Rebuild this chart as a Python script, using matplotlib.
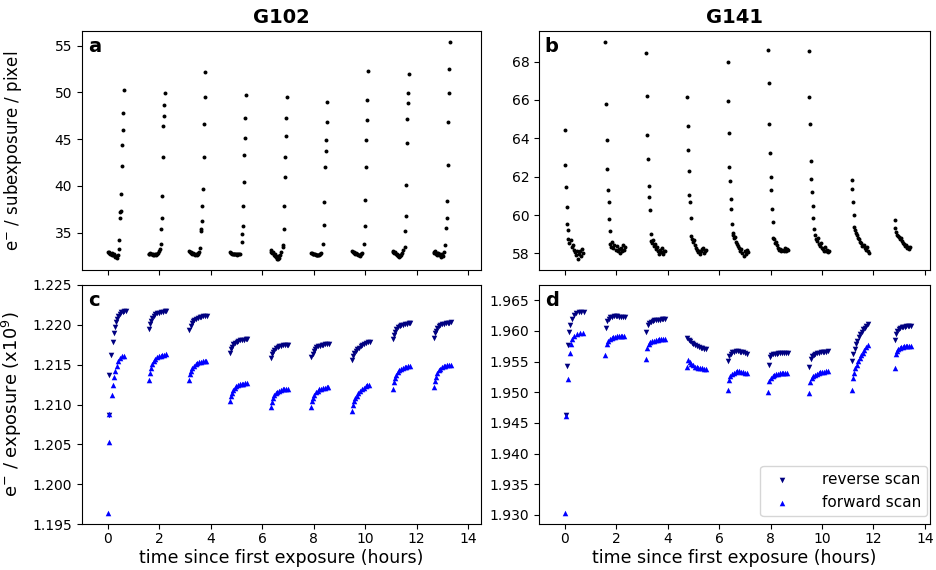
import matplotlib
matplotlib.use("Agg")
import matplotlib.pyplot as plt
from matplotlib.ticker import FormatStrFormatter

# orbit start times (hours since first exposure)
g102_start = [0.0, 1.59, 3.16, 4.74, 6.33, 7.90, 9.49, 11.07, 12.66]
g141_start = [0.0, 1.58, 3.16, 4.75, 6.33, 7.91, 9.49, 11.16, 12.83]

# ---- upper panels: e- / subexposure / pixel ----
# G102: flat cluster early in orbit, then a rising run of subexposures
g102_cl_dt = [0.00, 0.03, 0.06, 0.09, 0.12, 0.15, 0.18, 0.21, 0.24, 0.27, 0.30, 0.33, 0.36, 0.39]
g102_rise_dt = [0.40, 0.42, 0.44, 0.46, 0.48, 0.50, 0.52, 0.54, 0.56, 0.58, 0.60, 0.62]
g102_cluster = [
    [32.95, 32.85, 32.90, 32.75, 32.70, 32.80, 32.60, 32.55, 32.65, 32.45, 32.40, 32.50, 32.30, 32.55],
    [32.75, 32.70, 32.80, 32.65, 32.72, 32.60, 32.68, 32.62, 32.70, 32.58, 32.75, 32.66, 32.85, 33.00],
    [33.00, 32.90, 32.95, 32.80, 32.70, 32.85, 32.65, 32.75, 32.60, 32.70, 32.55, 32.80, 32.65, 32.90],
    [32.90, 32.85, 32.80, 32.75, 32.70, 32.72, 32.68, 32.65, 32.66, 32.62, 32.65, 32.70, 32.68, 32.75],
    [33.10, 32.95, 32.80, 32.90, 32.60, 32.50, 32.70, 32.35, 32.20, 32.45, 32.15, 32.30, 32.60, 32.90],
    [32.85, 32.80, 32.75, 32.70, 32.68, 32.65, 32.62, 32.60, 32.62, 32.58, 32.60, 32.65, 32.70, 32.80],
    [33.00, 32.90, 32.95, 32.85, 32.75, 32.80, 32.65, 32.70, 32.55, 32.60, 32.50, 32.65, 32.75, 32.85],
    [33.05, 32.95, 32.85, 32.90, 32.70, 32.60, 32.75, 32.50, 32.40, 32.55, 32.45, 32.60, 32.80, 33.10],
    [32.95, 32.85, 33.00, 32.70, 32.80, 32.60, 32.85, 32.55, 32.70, 32.40, 32.60, 32.75, 32.50, 32.90],
]
g102_rise = [
    [33.2, 34.2, 36.5, 37.2, 37.3, 39.1, 42.1, 44.4, 46.0, 47.8, 50.2],
    [33.2, 33.8, 35.4, 36.6, 38.9, 43.1, 46.4, 47.5, 48.6, 49.9],
    [33.3, 35.2, 35.4, 36.2, 37.8, 39.7, 43.1, 46.6, 49.5, 52.2],
    [34.0, 34.8, 35.7, 37.8, 40.4, 43.3, 45.1, 47.2, 49.7],
    [33.4, 33.7, 35.4, 37.8, 40.9, 43.1, 45.3, 47.3, 49.5],
    [33.8, 35.8, 38.3, 42.0, 43.7, 44.9, 46.8, 49.0],
    [33.8, 35.7, 38.5, 42.0, 44.9, 47.0, 49.2, 52.3],
    [33.4, 35.2, 36.8, 40.1, 44.6, 47.1, 48.9, 49.9, 52.0],
    [33.7, 35.5, 36.5, 38.4, 42.2, 46.8, 49.9, 52.5, 55.4],
]

# G141: falling run at the start of each orbit, then a scattered cluster
g141_head_dt = [0.00, 0.025, 0.05, 0.075, 0.10, 0.125, 0.15, 0.175, 0.20]
g141_cl_dt = [0.02, 0.06, 0.10, 0.14, 0.18, 0.22, 0.26, 0.30, 0.34, 0.38, 0.42, 0.46, 0.50, 0.54, 0.58]
g141_head = [
    [64.43, 62.62, 61.44, 60.43, 59.54, 59.21],
    [69.03, 65.79, 63.91, 62.38, 61.30, 60.69, 59.79, 59.19],
    [68.47, 66.21, 64.19, 62.94, 61.51, 60.95, 60.26, 59.02],
    [66.16, 64.66, 63.40, 62.31, 61.02, 60.66, 59.87, 58.90],
    [67.97, 65.95, 64.29, 62.50, 61.79, 60.81, 60.29, 59.54, 59.04],
    [68.61, 66.90, 64.76, 63.22, 61.96, 61.30, 60.31, 59.64],
    [68.57, 66.16, 64.76, 62.84, 61.89, 61.19, 60.48, 59.85, 59.25],
    [61.81, 61.36, 60.69, 59.98],
    [59.75, 59.32],
]
g141_cluster = [
    [58.75, 58.55, 58.70, 58.35, 58.45, 58.20, 58.05, 57.90, 58.10, 57.70, 57.95, 58.15, 57.85, 58.25, 58.00],
    [58.50, 58.35, 58.60, 58.30, 58.45, 58.20, 58.40, 58.10, 58.25, 58.00, 58.30, 58.15, 58.45, 58.20, 58.35],
    [58.65, 58.55, 58.70, 58.40, 58.50, 58.25, 58.35, 58.10, 57.95, 58.20, 58.05, 58.30, 57.95, 58.15, 58.10],
    [58.75, 58.60, 58.70, 58.45, 58.30, 58.20, 58.05, 58.15, 57.95, 58.10, 58.25, 58.30, 58.00, 58.15, 58.20],
    [58.95, 58.80, 58.85, 58.60, 58.50, 58.40, 58.30, 58.15, 58.25, 58.00, 57.85, 58.10, 57.95, 58.20, 58.05],
    [58.80, 58.75, 58.55, 58.60, 58.45, 58.30, 58.20, 58.25, 58.15, 58.20, 58.10, 58.30, 58.15, 58.25, 58.20],
    [58.95, 58.75, 58.65, 58.80, 58.50, 58.40, 58.55, 58.30, 58.25, 58.15, 58.35, 58.10, 58.20, 58.05, 58.15],
    [59.40, 59.20, 59.05, 58.95, 58.80, 58.75, 58.60, 58.55, 58.40, 58.45, 58.30, 58.20, 58.35, 58.10, 58.00],
    [59.10, 58.95, 58.90, 58.85, 58.75, 58.80, 58.65, 58.55, 58.50, 58.40, 58.45, 58.30, 58.35, 58.25, 58.35],
]

# ---- lower panels: e- / exposure (x1e9) ----
rev_shift = 0.015

# G102 first orbit (own timing)
g102_rev_t1 = [0.04, 0.06, 0.13, 0.19, 0.23, 0.27, 0.31, 0.35, 0.40, 0.46, 0.52, 0.58, 0.64, 0.69]
g102_rev_v1 = [1.20870, 1.21375, 1.21625, 1.21780, 1.21892, 1.21967, 1.22030, 1.22071,
               1.22113, 1.22142, 1.22160, 1.22167, 1.22172, 1.22175]
g102_fwd_t1 = [0.00, 0.03, 0.04, 0.15, 0.20, 0.25, 0.30, 0.35, 0.41, 0.48, 0.56, 0.64]
g102_fwd_v1 = [1.19640, 1.20530, 1.20880, 1.21121, 1.21250, 1.21350, 1.21425, 1.21488,
               1.21542, 1.21580, 1.21605, 1.21615]

# G102 orbits 2-9
g102_dt = [0.00, 0.04, 0.08, 0.13, 0.19, 0.25, 0.32, 0.39, 0.46, 0.53, 0.60, 0.67]
g102_rev = [
    [1.21950, 1.22012, 1.22051, 1.22086, 1.22113, 1.22130, 1.22144, 1.22152, 1.22159, 1.22163, 1.22168, 1.22170],
    [1.21940, 1.21988, 1.22018, 1.22045, 1.22066, 1.22079, 1.22090, 1.22096, 1.22102, 1.22105, 1.22108, 1.22110],
    [1.21650, 1.21698, 1.21728, 1.21755, 1.21776, 1.21789, 1.21800, 1.21806, 1.21812, 1.21815, 1.21818, 1.21820],
    [1.21580, 1.21628, 1.21658, 1.21685, 1.21706, 1.21719, 1.21730, 1.21736, 1.21742, 1.21745, 1.21748, 1.21750],
    [1.21590, 1.21638, 1.21668, 1.21695, 1.21716, 1.21729, 1.21740, 1.21746, 1.21752, 1.21755, 1.21758, 1.21760],
    [1.21560, 1.21611, 1.21643, 1.21670, 1.21693, 1.21714, 1.21733, 1.21749, 1.21762, 1.21774, 1.21783, 1.21790],
    [1.21820, 1.21876, 1.21912, 1.21944, 1.21968, 1.21984, 1.21996, 1.22004, 1.22010, 1.22014, 1.22018, 1.22020],
    [1.21840, 1.21893, 1.21927, 1.21958, 1.21981, 1.21996, 1.22007, 1.22015, 1.22021, 1.22024, 1.22028, 1.22030],
]
g102_fwd = [
    [1.21310, 1.21400, 1.21457, 1.21508, 1.21547, 1.21572, 1.21592, 1.21604, 1.21614, 1.21620, 1.21627, 1.21630],
    [1.21310, 1.21377, 1.21420, 1.21459, 1.21488, 1.21507, 1.21521, 1.21531, 1.21538, 1.21543, 1.21548, 1.21550],
    [1.21040, 1.21104, 1.21146, 1.21183, 1.21210, 1.21229, 1.21242, 1.21252, 1.21259, 1.21263, 1.21268, 1.21270],
    [1.20970, 1.21034, 1.21076, 1.21113, 1.21140, 1.21159, 1.21172, 1.21182, 1.21189, 1.21193, 1.21198, 1.21200],
    [1.20970, 1.21040, 1.21085, 1.21125, 1.21155, 1.21175, 1.21190, 1.21200, 1.21208, 1.21213, 1.21218, 1.21220],
    [1.20920, 1.20993, 1.21039, 1.21078, 1.21111, 1.21141, 1.21168, 1.21191, 1.21210, 1.21227, 1.21240, 1.21250],
    [1.21200, 1.21278, 1.21329, 1.21374, 1.21407, 1.21430, 1.21446, 1.21458, 1.21466, 1.21472, 1.21477, 1.21480],
    [1.21220, 1.21298, 1.21349, 1.21394, 1.21427, 1.21450, 1.21466, 1.21478, 1.21486, 1.21492, 1.21497, 1.21500],
]

# G141 first orbit
g141_rev_t1 = [0.04, 0.07, 0.13, 0.18, 0.22, 0.28, 0.36, 0.45, 0.55, 0.65, 0.75]
g141_rev_v1 = [1.94625, 1.95432, 1.95773, 1.95975, 1.96099, 1.96191, 1.96261, 1.96289,
               1.96305, 1.96310, 1.96310]
g141_fwd_t1 = [0.01, 0.04, 0.12, 0.19, 0.24, 0.30, 0.38, 0.48, 0.60, 0.72]
g141_fwd_v1 = [1.93033, 1.94610, 1.95211, 1.95643, 1.95785, 1.95866, 1.95920, 1.95947,
               1.95969, 1.95970]

# G141 orbits 2-9 (the last two orbits are shorter)
g141_dt = [0.00, 0.05, 0.11, 0.17, 0.24, 0.31, 0.38, 0.45, 0.52, 0.59, 0.66, 0.74]
g141_dt_late = [0.00, 0.04, 0.09, 0.14, 0.19, 0.25, 0.31, 0.37, 0.43, 0.49, 0.55, 0.62]
g141_rev = [
    [1.96050, 1.96160, 1.96200, 1.96220, 1.96230, 1.96240, 1.96240, 1.96240, 1.96230, 1.96230, 1.96220, 1.96220],
    [1.95990, 1.96100, 1.96134, 1.96154, 1.96166, 1.96174, 1.96180, 1.96184, 1.96186, 1.96188, 1.96190, 1.96190],
    [1.95880, 1.95860, 1.95830, 1.95810, 1.95790, 1.95770, 1.95760, 1.95740, 1.95730, 1.95720, 1.95710, 1.95700],
    [1.95504, 1.95595, 1.95630, 1.95650, 1.95660, 1.95666, 1.95666, 1.95664, 1.95660, 1.95650, 1.95640, 1.95625],
    [1.95448, 1.95568, 1.95605, 1.95620, 1.95628, 1.95632, 1.95634, 1.95635, 1.95635, 1.95634, 1.95634, 1.95633],
    [1.95416, 1.95541, 1.95590, 1.95615, 1.95630, 1.95640, 1.95648, 1.95654, 1.95658, 1.95662, 1.95664, 1.95666],
    [1.95504, 1.95622, 1.95704, 1.95785, 1.95839, 1.95894, 1.95947, 1.95991, 1.96029, 1.96056, 1.96083, 1.96110],
    [1.95850, 1.95947, 1.95995, 1.96025, 1.96045, 1.96058, 1.96066, 1.96072, 1.96076, 1.96079, 1.96081, 1.96082],
]
g141_fwd = [
    [1.95610, 1.95780, 1.95833, 1.95864, 1.95883, 1.95895, 1.95905, 1.95911, 1.95914, 1.95917, 1.95920, 1.95920],
    [1.95550, 1.95726, 1.95780, 1.95812, 1.95832, 1.95844, 1.95854, 1.95860, 1.95864, 1.95867, 1.95870, 1.95870],
    [1.95416, 1.95525, 1.95490, 1.95460, 1.95440, 1.95420, 1.95410, 1.95400, 1.95395, 1.95390, 1.95385, 1.95378],
    [1.95037, 1.95200, 1.95260, 1.95297, 1.95320, 1.95335, 1.95341, 1.95340, 1.95335, 1.95325, 1.95315, 1.95309],
    [1.94999, 1.95178, 1.95240, 1.95272, 1.95288, 1.95297, 1.95302, 1.95306, 1.95308, 1.95309, 1.95309, 1.95309],
    [1.94983, 1.95162, 1.95225, 1.95262, 1.95285, 1.95302, 1.95315, 1.95325, 1.95332, 1.95337, 1.95340, 1.95341],
    [1.95037, 1.95232, 1.95320, 1.95390, 1.95450, 1.95505, 1.95555, 1.95600, 1.95645, 1.95690, 1.95733, 1.95773],
    [1.95395, 1.95622, 1.95680, 1.95710, 1.95727, 1.95737, 1.95744, 1.95749, 1.95752, 1.95754, 1.95756, 1.95757],
]

# ---- assemble time series ----
a_t, a_v = [], []
for s, cl, rs in zip(g102_start, g102_cluster, g102_rise):
    a_t += [s + d for d in g102_cl_dt]
    a_v += cl
    a_t += [s + d for d in g102_rise_dt[-len(rs):]]
    a_v += rs

b_t, b_v = [], []
for s, hd, cl in zip(g141_start, g141_head, g141_cluster):
    n = len(hd)
    b_t += [s + d for d in g141_head_dt[:n]]
    b_v += hd
    t0 = s + g141_head_dt[n - 1]
    b_t += [t0 + d for d in g141_cl_dt]
    b_v += cl

c_rt, c_rv = list(g102_rev_t1), list(g102_rev_v1)
c_ft, c_fv = list(g102_fwd_t1), list(g102_fwd_v1)
for s, rv, fv in zip(g102_start[1:], g102_rev, g102_fwd):
    c_rt += [s + d + rev_shift for d in g102_dt]
    c_rv += rv
    c_ft += [s + d for d in g102_dt]
    c_fv += fv

d_rt, d_rv = list(g141_rev_t1), list(g141_rev_v1)
d_ft, d_fv = list(g141_fwd_t1), list(g141_fwd_v1)
for i, (s, rv, fv) in enumerate(zip(g141_start[1:], g141_rev, g141_fwd)):
    dt = g141_dt_late if i >= 6 else g141_dt
    d_rt += [s + d + rev_shift for d in dt]
    d_rv += rv
    d_ft += [s + d for d in dt]
    d_fv += fv

# ---- figure ----
fig = plt.figure(figsize=(9.36, 5.70), dpi=100)
W, H = 936.0, 570.0
def box(l, r, t, b):
    return [l / W, 1 - b / H, (r - l) / W, (b - t) / H]

ax_a = fig.add_axes(box(82, 481, 31, 270))
ax_b = fig.add_axes(box(539, 930, 31, 270))
ax_c = fig.add_axes(box(82, 481, 285, 524))
ax_d = fig.add_axes(box(539, 930, 285, 524))

ax_a.scatter(a_t, a_v, s=8, c="black", linewidths=0)
ax_b.scatter(b_t, b_v, s=8, c="black", linewidths=0)

ax_c.scatter(c_rt, c_rv, s=16, marker="v", c="navy", linewidths=0, label="reverse scan")
ax_c.scatter(c_ft, c_fv, s=16, marker="^", c="blue", linewidths=0, label="forward scan")
ax_d.scatter(d_rt, d_rv, s=16, marker="v", c="navy", linewidths=0, label="reverse scan")
ax_d.scatter(d_ft, d_fv, s=16, marker="^", c="blue", linewidths=0, label="forward scan")

xt = [0, 2, 4, 6, 8, 10, 12, 14]
for ax in (ax_a, ax_c):
    ax.set_xlim(-1, 14.5)
for ax in (ax_b, ax_d):
    ax.set_xlim(-1, 14.2)
for ax in (ax_a, ax_b, ax_c, ax_d):
    ax.set_xticks(xt)
    ax.tick_params(labelsize=10)
    ax.tick_params(axis="x", pad=2.5)
for ax in (ax_a, ax_b):
    ax.set_xticklabels([])

ax_c.set_ylim(1.195, 1.225)
ax_c.set_yticks([1.195, 1.200, 1.205, 1.210, 1.215, 1.220, 1.225])
ax_c.yaxis.set_major_formatter(FormatStrFormatter("%.3f"))
ax_d.set_ylim(1.9285, 1.9675)
ax_d.set_yticks([1.930, 1.935, 1.940, 1.945, 1.950, 1.955, 1.960, 1.965])
ax_d.yaxis.set_major_formatter(FormatStrFormatter("%.3f"))

ax_a.set_title("G102", fontsize=14, fontweight="bold")
ax_b.set_title("G141", fontsize=14, fontweight="bold")

for ax, lab in zip((ax_a, ax_b, ax_c, ax_d), "abcd"):
    ax.text(0.015, 0.975, lab, transform=ax.transAxes, fontsize=14,
            fontweight="bold", va="top", ha="left")

ax_a.set_ylabel(r"e$^{-}$ / subexposure / pixel", fontsize=12)
ax_c.set_ylabel(r"e$^{-}$ / exposure (x10$^{9}$)", fontsize=13)
ax_a.yaxis.set_label_coords(-0.145, 0.5)
ax_c.yaxis.set_label_coords(-0.145, 0.5)
ax_c.set_xlabel("time since first exposure (hours)", fontsize=12.5, labelpad=2)
ax_d.set_xlabel("time since first exposure (hours)", fontsize=12.5, labelpad=2)

ax_d.legend(loc="lower right", fontsize=11, scatterpoints=1,
            handletextpad=1.6, borderaxespad=0.2,
            bbox_to_anchor=(1.0, 0.02))

fig.savefig("out.png", dpi=100)
